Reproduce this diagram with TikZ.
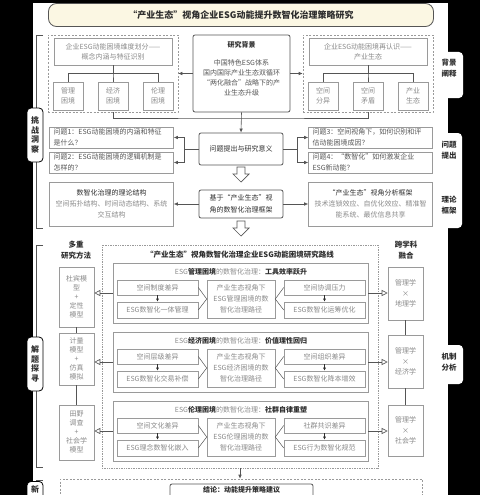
\documentclass[tikz,border=0pt]{standalone}
\usepackage{fontspec}
\setmainfont{Noto Sans CJK SC}
\usetikzlibrary{calc, arrows.meta}

\definecolor{ink}{HTML}{2E2E2E}
\definecolor{mute}{HTML}{8A8A8A}
\definecolor{rim}{HTML}{9A9A9A}
\definecolor{deep}{HTML}{555555}
\definecolor{cream}{HTML}{FBF7E3}

\tikzset{
  dims/.style 2 args={minimum width=#1pt, minimum height=#2pt},
  cell/.style={draw=rim, line width=0.6pt, fill=white, align=center, text=mute,
    inner sep=0pt, font=\fontsize{7}{10}\selectfont},
  hub/.style={cell, draw=deep, line width=0.8pt, rounded corners=2pt, text=ink},
  qcell/.style={cell, text=deep, align=left, text width=116pt, inner xsep=4pt,
    minimum height=21pt, font=\fontsize{7}{11}\selectfont},
  fence/.style={draw=rim, line width=0.6pt, dash pattern=on 2pt off 1.5pt},
  twig/.style={draw=deep, line width=0.5pt},
  feed/.style={draw=deep, line width=0.6pt, -{Latex[length=4pt, width=3.5pt]}},
  nib/.style={draw=ink, line width=0.5pt, -{Latex[length=3pt, width=3pt]}},
  hollowtip/.style={draw=deep, line width=0.6pt, -{Triangle[open, length=6pt, width=6pt]}},
  hollow/.style={draw=deep, line width=0.7pt, fill=white},
  brace/.style={draw=deep, line width=0.6pt},
  tag/.style={draw=black, line width=0.8pt, fill=white, rounded corners=4pt,
    dims={16}{54}, align=center, inner sep=0pt, text=ink,
    font=\bfseries\fontsize{8}{9.5}\selectfont},
  sidetag/.style={align=center, text=ink, font=\bfseries\fontsize{7.5}{11}\selectfont},
  head/.style={align=center, text=ink, font=\bfseries\fontsize{7.5}{11}\selectfont}
}

\begin{document}
\begin{tikzpicture}[x=1pt, y=-1pt]
  \useasboundingbox (0,0) rectangle (480,495);
  \fill[white] (0,0) rectangle (480,495);

  % dark margins and side tabs
  \fill[black] (0,0) rectangle (33,495);
  \fill[black] (448,0) rectangle (480,495);
  \fill[black] (0,0) rectangle (480,3);
  \fill[white, rounded corners=4pt] (430,52) rectangle (463,98);
  \fill[white, rounded corners=4pt] (430,133) rectangle (462,228);
  \fill[white, rounded corners=4pt] (430,345) rectangle (463,384);

  \draw[brace] (43,35) -| (36,228) -- (43,228);
  \draw[brace] (43,245) -| (36,467) -- (43,467);
  \draw[brace] (43,480) -| (36,500);

  \node[tag] (tagChallenge) at (35,135) {挑\\战\\洞\\察};
  \node[tag] (tagSolve) at (35,364) {解\\题\\探\\寻};
  \node[tag, anchor=north] (tagNext) at (35,481) {};
  \node[text=ink, font=\bfseries\fontsize{8}{9.5}\selectfont] (tagNextText) at (35,489.5) {新};

  \node[sidetag] (tagBack) at (449,68.5) {背景\\阐释};
  \node[sidetag] (tagAsk) at (449,150.5) {问题\\提出};
  \node[sidetag] (tagFrame) at (449,205) {理论\\框架};
  \node[sidetag] (tagMech) at (449,362.5) {机制\\分析};

  % title
  \node[hub, fill=cream, rounded corners=8pt, dims={385}{23},
    font=\bfseries\fontsize{9}{9}\selectfont] (title) at (241,15)
    {“产业生态”视角企业ESG动能提升数智化治理策略研究};

  % background
  \node[fence, dims={130}{77}] (dimBox) at (113,73.5) {};
  \node[cell, dims={118}{27}] (dimHead) at (113,51.5) {企业ESG动能困境维度划分——\\概念内涵与特征识别};
  \node[cell, dims={30}{28}] (mgmt) at (68,96) {管理\\困境};
  \node[cell, dims={30}{28}] (econ) at (113,96) {经济\\困境};
  \node[cell, dims={30}{28}] (ethic) at (158,96) {伦理\\困境};

  \node[fence, dims={130}{77}] (reBox) at (368,73.5) {};
  \node[cell, dims={118}{27}] (reHead) at (368,51.5) {企业ESG动能困境再认识——\\产业生态};
  \node[cell, dims={30}{28}] (split) at (323,96) {空间\\分异};
  \node[cell, dims={30}{28}] (clash) at (368,96) {空间\\矛盾};
  \node[cell, dims={30}{28}] (eco) at (413,96) {产业\\生态};

  \foreach \leaf in {mgmt, econ, ethic}
    \draw[twig] (dimHead.south) -- ++(0,8) -| (\leaf.north);
  \foreach \leaf in {split, clash, eco}
    \draw[twig] (reHead.south) -- ++(0,8) -| (\leaf.north);

  \node[hub, dims={97}{77}] (bg) at (241.5,73.5) {};
  \node[align=center, text=deep, font=\fontsize{7}{10}\selectfont] (bgText) at ([yshift=4.5pt]bg.center)
    {{\bfseries\color{ink}研究背景}\\[8pt]中国特色ESG体系\\国内国际产业生态双循环\\“两化融合”战略下的产\\业生态升级};

  \draw[feed] (bg.west) -- (dimBox.east);
  \draw[feed] (bg.east) -- (reBox.west);
  \coordinate (join) at (241.5,118);
  \draw[twig] (dimBox.south) |- (join) -| (reBox.south);

  % questions
  \node[qcell] (q1) at (111.5,137.5) {问题1：ESG动能困境的内涵和特征\\是什么？};
  \node[qcell] (q2) at (111.5,162.5) {问题2：ESG动能困境的逻辑机制是\\怎样的？};
  \node[qcell] (q3) at (370.5,137.5) {问题3：空间视角下，如何识别和评\\估动能困境成因？};
  \node[qcell] (q4) at (370.5,162.5) {问题4：“数智化”如何激发企业\\ESG新动能？};
  \node[hub, dims={84}{32}] (ask) at (241,149) {问题提出与研究意义};

  \draw[feed] (bg.south) -- (ask.north);
  \draw[feed] (ask.west) -- ++(-14,0) |- (q1.east);
  \draw[feed] (ask.west) -- ++(-14,0) |- (q2.east);
  \draw[feed] (ask.east) -- ++(14,0) |- (q3.west);
  \draw[feed] (ask.east) -- ++(14,0) |- (q4.west);

  % framework
  \node[cell, dims={124}{44}, font=\fontsize{7}{11}\selectfont] (theory) at (111.5,204)
    {{\color{ink}数智化治理的理论结构}\\空间拓扑结构、时间动态结构、系统\\交互结构};
  \node[hub, dims={84}{28}, font=\fontsize{7}{12}\selectfont] (frame) at (241,204) {基于“产业生态”视\\角的数智化治理框架};
  \node[cell, dims={124}{44}, font=\fontsize{7}{11}\selectfont] (lens) at (370.5,204)
    {{\color{ink}“产业生态”视角分析框架}\\技术连锁效应、自优化效应、精准智\\能系统、最优信息共享};
  \draw[feed] (frame.west) -- (theory.east);
  \draw[feed] (frame.east) -- (lens.west);

  \foreach \ya in {167,221}
    \draw[hollow] (237,\ya) -- (245,\ya) -- (245,\ya+7) -- (249,\ya+7) -- (241,\ya+15)
      -- (233,\ya+7) -- (237,\ya+7) -- cycle;

  % methods and disciplines
  \node[head] (methodHead) at (76,250.5) {多重\\研究方法};
  \node[cell, dims={35}{60}, font=\fontsize{7}{9}\selectfont] (durbin) at (76.5,297) {杜宾模\\型\\+\\定性\\模型};
  \node[cell, dims={35}{52}, font=\fontsize{7}{9}\selectfont] (metric) at (76.5,359) {计量\\模型\\+\\仿真\\模拟};
  \node[cell, dims={35}{55}, font=\fontsize{7}{9}\selectfont] (survey) at (76.5,432.5) {田野\\调查\\+\\社会学\\模型};
  \draw[twig] (durbin) -- (metric);
  \draw[twig] (metric) -- (survey);

  \node[head] (crossHead) at (406,250.5) {跨学科\\融合};
  \node[cell, dims={35}{53}, font=\fontsize{7}{10.5}\selectfont] (geo) at (405.5,293.5) {管理学\\×\\地理学};
  \node[cell, dims={35}{53}, font=\fontsize{7}{10.5}\selectfont] (ecoX) at (405.5,361.5) {管理学\\×\\经济学};
  \node[cell, dims={35}{51}, font=\fontsize{7}{10.5}\selectfont] (soc) at (405.5,430.5) {管理学\\×\\社会学};
  \draw[twig] (geo) -- (ecoX);
  \draw[twig] (ecoX) -- (soc);

  % research route
  \node[draw=rim, densely dotted, line width=0.7pt, dims={276}{223}] (route) at (240,356.5) {};
  \node[head] (routeHead) at (240,255) {“产业生态”视角数智化治理企业ESG动能困境研究路线};

  \foreach \id/\ya/\kind/\aim/\la/\lb/\ra/\rb/\meth/\disc in {
    mg/263/管理困境/工具效率跃升/空间制度差异/ESG数智化一体管理/空间协调压力/ESG数智化运筹优化/durbin/geo,
    ec/332/经济困境/价值理性回归/空间层级差异/ESG数智化交易补偿/空间组织差异/ESG数智化降本增效/metric/ecoX,
    et/401/伦理困境/社群自律重塑/空间文化差异/ESG理念数智化嵌入/社群共识差异/ESG行为数智化规范/survey/soc}
  {
    \node[cell, dims={255}{60}] (\id) at (240.5,\ya+30) {};
    \node[text=mute, font=\fontsize{7}{10}\selectfont] (\id-head) at (241,\ya+9)
      {ESG{\bfseries\color{ink}\kind}的数智化治理：{\bfseries\color{ink}\aim}};
    \node[cell, dims={81}{15}] (\id-l1) at (157.5,\ya+24.5) {\la};
    \node[cell, dims={81}{16}] (\id-l2) at (157.5,\ya+47) {\lb};
    \node[cell, dims={68}{38}, font=\fontsize{7}{11}\selectfont] (\id-mid) at (241,\ya+36)
      {产业生态视角下\\ESG{\kind}的数\\智化治理路径};
    \node[cell, dims={81}{15}] (\id-r1) at (324.5,\ya+24.5) {\ra};
    \node[cell, dims={81}{16}] (\id-r2) at (324.5,\ya+47) {\rb};
    \draw[nib] (\id-l1) -- (\id-l2);
    \draw[nib] (\id-r1) -- (\id-r2);
    \draw[twig] (\id-l1.east) -- (\id-mid.west) -- (\id-l2.east);
    \draw[twig] (\id-r1.west) -- (\id-mid.east) -- (\id-r2.west);
    \draw[hollowtip] (\id.west) -- (\id.west -| \meth.east);
    \draw[hollowtip] (\id.east) -- (\id.east -| \disc.west);
  }

  % conclusion
  \node[fence, dims={362}{40}] (outcome) at (241,499) {};
  \node[hub, dims={143}{20}, font=\bfseries\fontsize{7}{9}\selectfont] (verdict) at (241.5,494) {};
  \node[text=ink, font=\bfseries\fontsize{7}{9}\selectfont] (verdictText) at (241.5,489.5) {结论：动能提升策略建议};
  \draw[feed] (route.south) -- (route.south |- outcome.north);
\end{tikzpicture}
\end{document}
